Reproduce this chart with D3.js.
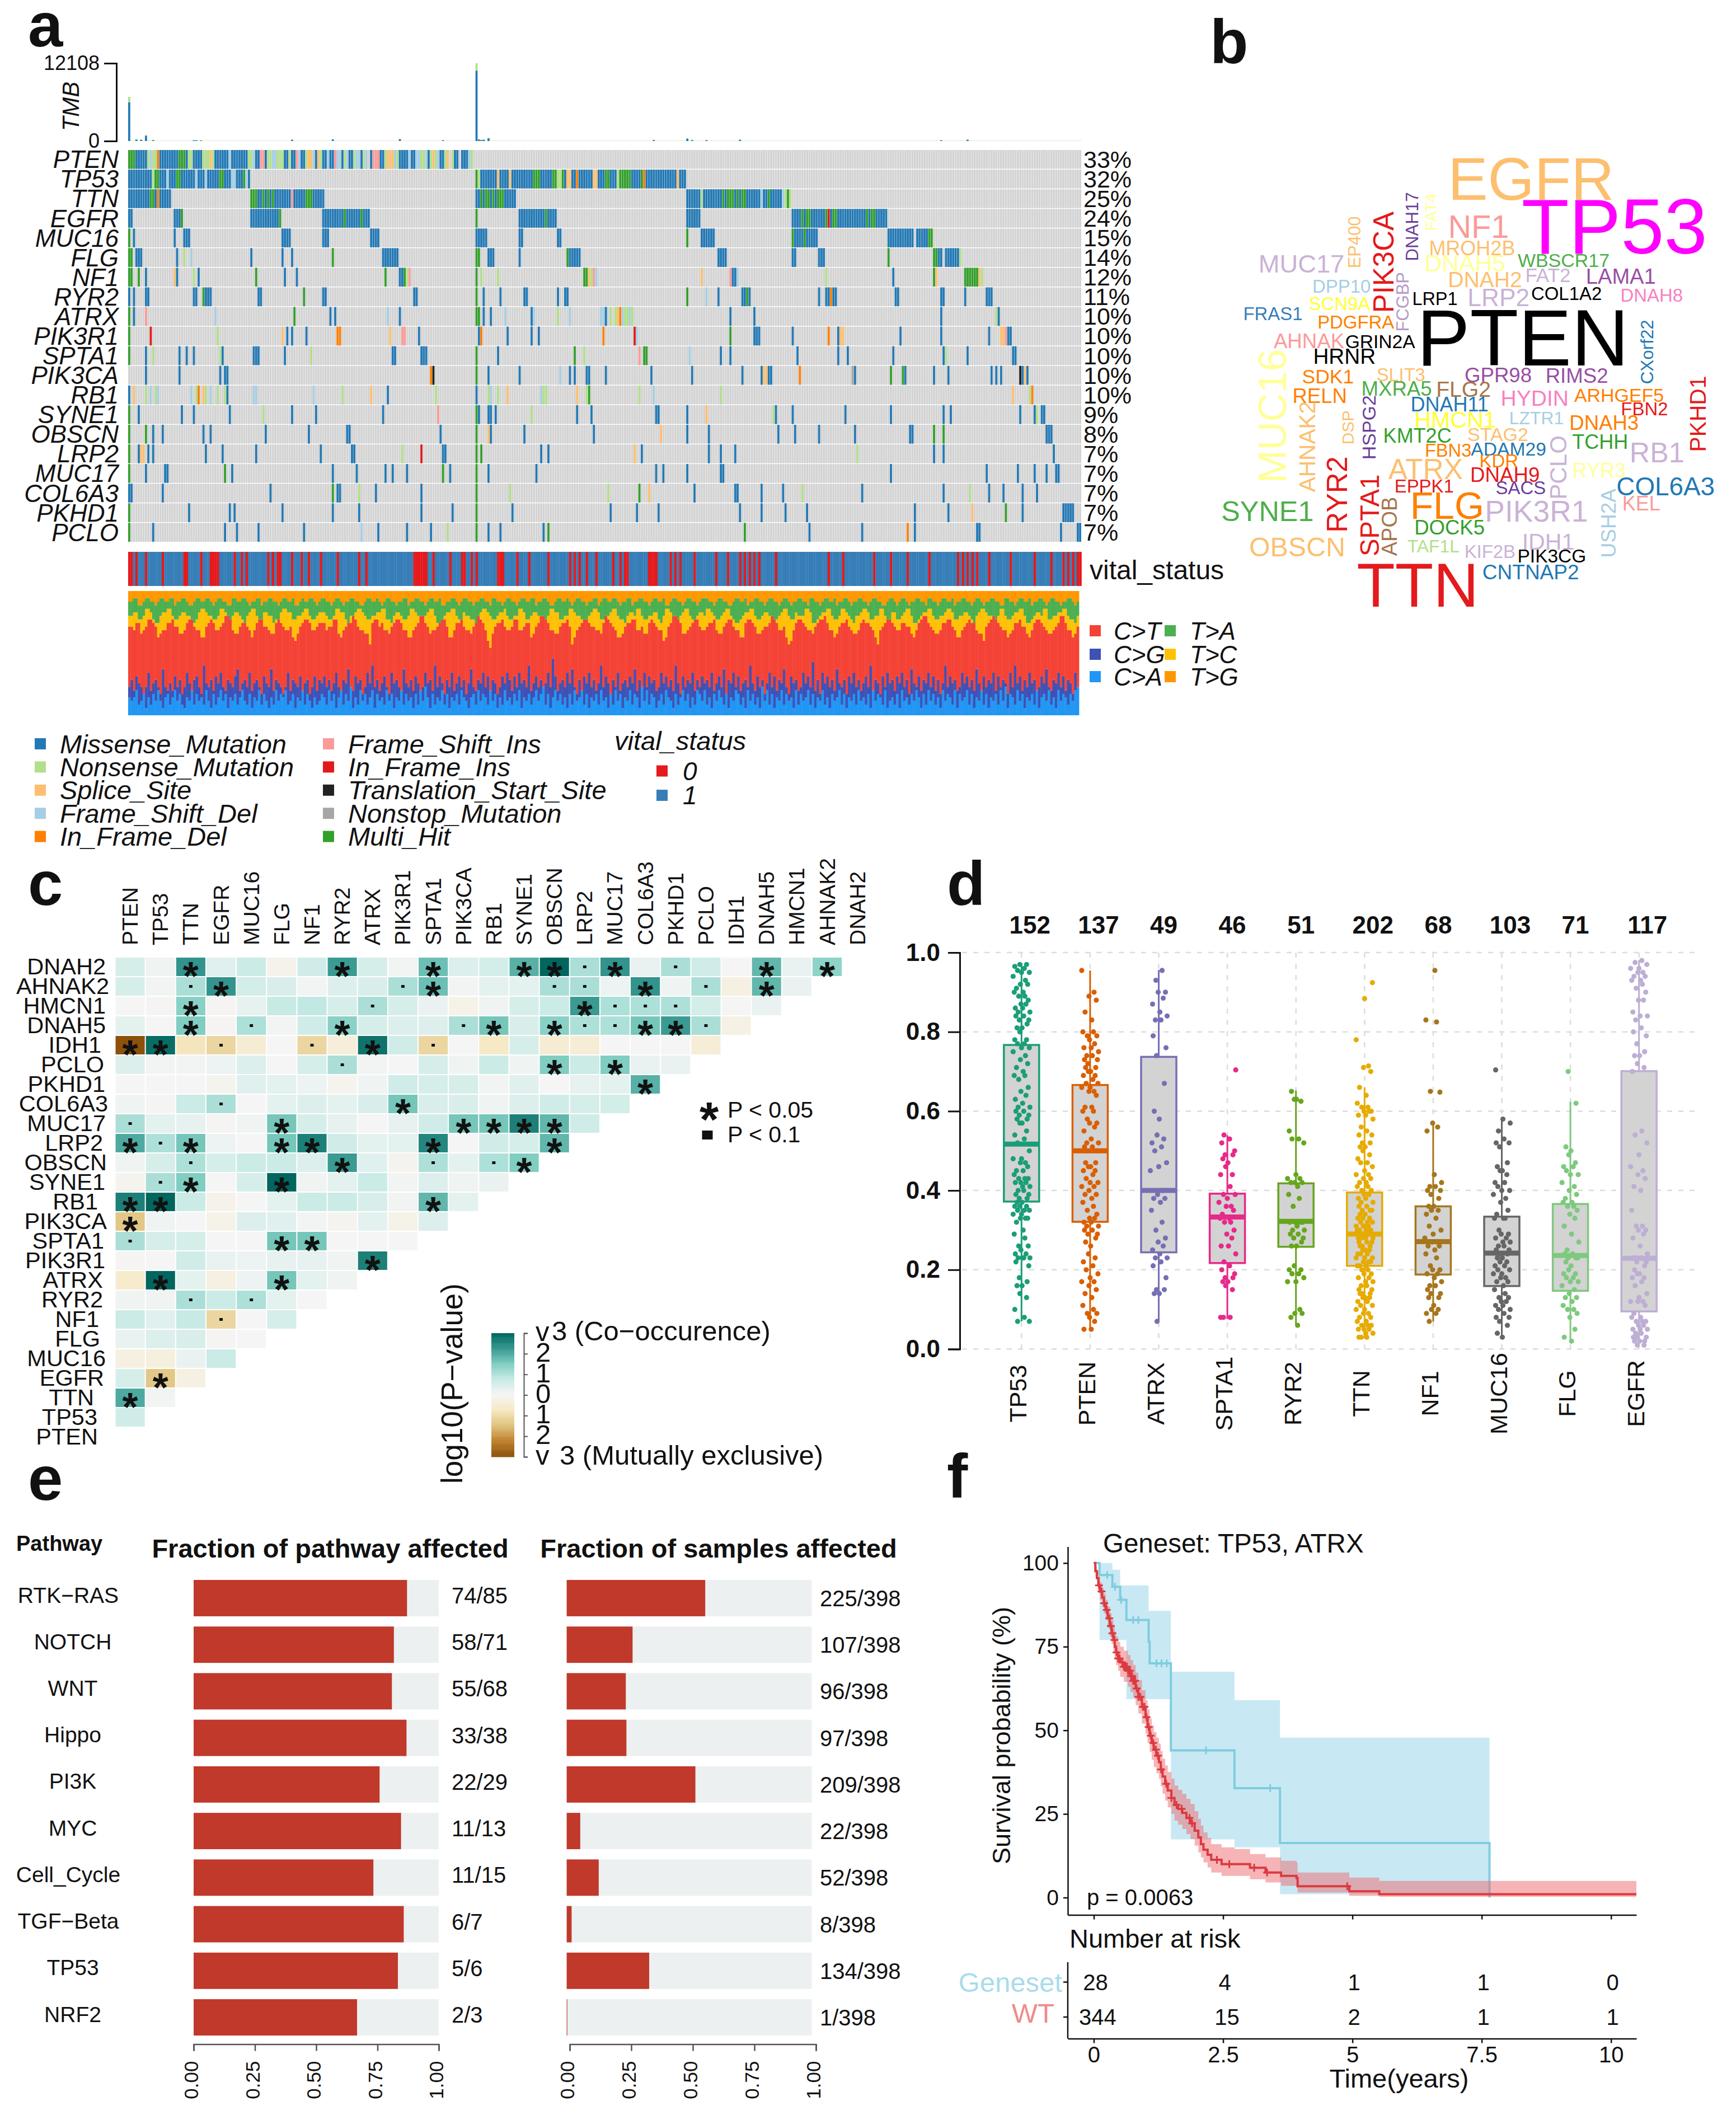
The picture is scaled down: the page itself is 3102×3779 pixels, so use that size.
<!DOCTYPE html>
<html>
<head>
<meta charset="utf-8">
<script src="https://cdn.jsdelivr.net/npm/d3@7"></script>
<style>
  body { margin: 0; background: #fff; }
  text { font-family: "Liberation Sans", Arial, sans-serif; fill: #111; }
</style>
</head>
<body>
<div id="chart"></div>
<script>
// ---------- panel a: oncoplot ----------
const sampleCount = 398;
const oncoGenes = ["PTEN","TP53","TTN","EGFR","MUC16","FLG","NF1","RYR2","ATRX","PIK3R1","SPTA1","PIK3CA","RB1","SYNE1","OBSCN","LRP2","MUC17","COL6A3","PKHD1","PCLO"];
const oncoPct = [33,32,25,24,15,14,12,11,10,10,10,10,10,9,8,7,7,7,7,7];
// start[:length][type], no type letter means missense
const oncoRows = [
  "0:3H 3:5 8N 9D 10:2N 12F 13:8 21:3H 24 25:2N 27:4 31:3N 34S 35N 36:6 42D 43:7 50:2N 52D 53:2 55:2I 57 58:2N 60:2D 62:3N 65:2 67N 68:2 70I 71D 72:2 74N 75:2S 77D 78 79S 80N 81:2 83D 84:2 86I 87:2D 89 90N 91D 92:2 94N 95:2D 97 98N 99D 101 102:3I 105:2 107N 108:3S 111D 112N 113:4 117D 118:2 120:2D 122:2N 124D 125 126N 127S 128N 129D 130:2 132N 133S 135N 136:2 139:3 142D 143N",
  "0:10 10N 11:2H 13:3 16D 17:3 20:2H 22:4 26:2 28D 29:3 32D 33:5 38:2H 40:3 43:2D 45:3 48H 49D 50 145H 146N 147:2 149:5 154S 155:4 159S 160:3 163:6 169:3H 172:5 177:2H 179:2N 181H 182 183:2S 185:2 187F 188:6 194:2S 196:3 199:2H 201:3 204N 205:2H 207:3H 210 211:3 214H 215F 216:6 222:7 229S 230:3",
  "0:9 9:2H 11 12F 13:5 51:3H 54:2 56H 57 58H 59 60H 61 62:6 68I 69:5 74:3H 77:5 145:2 147H 148 149:2H 151 152H 153 154:2H 156H 157:5 233:6 239N 240 241:7 248H 249 250H 251:2H 253 254H 255 256:2H 258 259:5 264D 265:2 267H 268:2 270:3 273D 274N 275H 276N",
  "0:2 19:3 22H 51:12 63H 81:9 90H 91:6 97H 98:3 145H 163:11 174H 175:4 233:6 277:4 281H 282 283:2H 285:2 287:4 291H 292R 293 294:2H 296:2 298:10 308H 309 310:2H 312:5",
  "0H 2 19 23:3 64:4 81:3 101:4 145:5 163:2 179:2 233H 239:6 277H 278:3 281 282H 283:5 317:11 329:5 334:2H",
  "0:2H 3:3 20 23N 26D 51 64 68 85H 106:7 145:2H 150:3 163 183H 184:4 188 246:4 277:2 288:3 317H 336:2H 338:2 341:6 347N",
  "0:2H 4H 7 19S 20 27N 29 53H 65 70 107H 113:2 115H 116N 117I 145H 147N 154N 190:2H 192S 193N 194I 195D 239S 251I 252:2 254D 291N 319 336H 337S 349:6H 355S 356N",
  "0 2 7:2 27:2 31H 32:3 54:2 73H 81:2 119:2 145H 148 155 165:2 179 182:2 233H 241D 246 256:2 258H 259 288 291:2 293F 294:2 320:2 339:2 349 358:3",
  "0H 2 7I 36D 69H 84 86 108D 113 145:2H 148 151 157D 168 169D 179N 184D 197:3D 199 201N 203N 204S 205F 206D 207:3N 209D 210N 251 261 339 362N 363",
  "0H 9R 37N 64S 66 68 74 87:2F 109S 114:2I 121 146 147F 158 168 171 198F 211R 212D 251H 261:3 277 292F 296 297:2S 322 339 359 364:2S 366I 367:2",
  "0H 7 10N 21 24 27 38N 39 52:2 54 65 76N 110:2 122:3 145H 154 186H 190N 213I 215:2H 234D 247 251 279 296 300 319 340 341N 350 369:2",
  "7 21 38 40:2 126F 127T 145H 150 163 180D 184 186 191:2 199 218 235 256 264 265:2S 267 268 280F 302O 303 318H 323H 324 336 342 360 362 364 372T 373 374S 375",
  "0 2S 7N 9D 11N 12D 26D 28N 29F 31S 32N 34D 37N 40N 41 52:2D 77D 89N 101S 108 128N 145 150N 151D 154N 158S 172D 173N 174N 187S 191N 192H 213N 219D 247N 369S 376N 377F",
  "0H 4 22 27 42 56N 68 78 106 129I 145H 146 150:2 153 168N 187 193 220 221 233 241S 269N 270 277 299 318 340 343 372 378 379N 381:2",
  "0H 7H 10 14 31 34 57 75 91:2 130 145H 150S 151 165 194 222S 233 242 271 278 288 303 326:2 336H 340H 383 384 385",
  "0H 4 5:2S 8 10 32 39 53 80 93:2 114N 122R 131 132 145H 147H 172 175 211S 214 242 247 253 304N 336 340 386",
  "0H 7 15:2 40H 43 85 95 107 110 116 131H 134 145H 150 170 220 223 233 247 248 318 358 371 378 383 387:2",
  "0:2 14 59 85H 87:2 96N 103 122 145H 159N 200N 213H 217S 236 253:2 264 273 281N 306 340 351N 359 365 373 379",
  "0H 25 42 44 64 85 96 122 135 145H 160 201 212 221 255 264 274 283 328 342 352S 366H 373 390:2 392 393:2",
  "0H 10 40 45 54 73 97D 104 116 126 133N 145H 150 155 173 175H 257H 284 306 325F 328 354:2 389 396 397"
];
const mutNames = ["Missense_Mutation","Nonsense_Mutation","Splice_Site","Frame_Shift_Del","In_Frame_Del","Frame_Shift_Ins","In_Frame_Ins","Translation_Start_Site","Nonstop_Mutation","Multi_Hit"];
const mutCodes = ["M","N","S","D","F","I","R","T","O","H"];
const mutColors = ["#2379b5","#b2df8a","#fdbf6f","#a6cee3","#ff7f00","#fb9a99","#e31a1c","#222222","#a6a6a6","#33a02c"];

const tmbPeakSample = [0,3,5,7,10,27,28,30,68,85,113,131,145,146,147,148,150,219,233,235,241,255,339,350];
const tmbPeakMissense = [6015,220,180,800,140,120,110,90,200,240,280,120,10944,230,150,200,420,160,360,150,140,200,120,200];
const tmbPeakTotal = [6870,300,250,970,200,150,150,120,250,300,350,150,12108,300,200,250,500,200,450,200,180,250,150,250];
const tmbFloor = 110;

const vitalDeadFree = [0,1,3,7,14,23,24,30,34,35,36,37,44,47,49,58,60,62,63,68,72,75,80,87,96,99,119,120,121,122,123,124,127,134,139,140,143,145,154,155,156,162,167,175,184,186,188,191,195,202,205,207,208,217,218,219,220,226,228,230,236,245,250,255,257,259,261,263,270,292,298,311,318,325,334,346,348,350,352,354,359,368,378,385,390,392,394,396,397];

// cumulative tops per sample, base 36 digits over 35
const spectrumCA = "5457346253647425635746325473645374263574625463574362547364253746573462547364253"
  + "4653746257364825374635726453746254736452637485263547362546375425637465374625374"
  + "5364725463574683625746352637457362546374526374625473652847365246375426357462537"
  + "6473526475362547635274635284736254736452736457362547352645736254637453627465372"
  + "4536274536475263746352746537264573625473625463748265374625463725647352746536478";
const spectrumCG = "8a7b9868c79a86d8797b8a68c97ab86e98a7b9c87a98bd79a8c79a86b98d7a9868c7a98b79a68b7a"
  + "9b8a79c86a9d87b9a68c9e8a79b86c9a87d98a7b968c9a7e8b96a8c79b8a69d87a9c8b7a968b9ca"
  + "7b8c9a8e79b8a69c8gb79a8c9d86a7b9c8a79e8b96a8c79a8b9d7a6c8b9a78c9b8a7e96b8a9c7a8"
  + "b9a8c79b8d6a9c8b79a8e97b8a69c8b7a9d86b9a78c9b8f7a6c9b8a7d98a6b9c8a79b8e7a96b8c9"
  + "a7b9c8a6d98b7a9c8b7a69e8b9a78c9b8a7d96b8a9c7b8a96c8e9b7a8c9a68b9d87a9c8b7a96c8b";
const spectrumCT = "ppoqqnoprrqpmnooqqrppnnoqrrpoommpqrqoopqssronnpqqpomoqrrpponnqrqpoopmlnpqrrqoopq"
  + "qqopprrnmopqqsrpoonnkqrrpqoonpqrrqoommopqssqpnoopqrrpmmoqqrpoonpqsrqoljnpqqrpoop"
  + "rroopqqmnpqssrqoonnpqqrpkmopqrrqppoonqsrqpommnpqqrroopnnqrqpoolmpqssrqnnopqrrpoo"
  + "pqqronnpqrrpoommqrrqpnnoppqsrqoopmkloqrrqpoonpqrrsqoomnpqqrponnoqrqqpomkopqrrqpo"
  + "oqqppnmoqrssqponnoqqrrpommopqrqqonnlpqrsrqpoomnoqqrppnmoqrrqponnopqssqoomnpqrqpo";
const spectrumTC = "ssttrrsuutrqqsttuusrrsttssrqrtuutssrrsuutrrsttsrqstuusrrttssqrrtuuttrrsstuusrrst"
  + "ttsrrsuuttrqsstuutsrrssttuurrqsttsrrsuutsrrstuusqqrsttuusrrtssrrqstuutsrrsttusrr"
  + "ssuutrrsttsqqrsuuttrrssuutssrqqstuutrrsstuusrrqsttsuusrrssttrqsuutsrrstuusrrstts"
  + "uutsrrstuusrqqrsttuusrrsttssqrstuusrrtsssuutqqrsttuusrrsuutsrqsstuutrrssuusrrttr"
  + "rstuusqqrsttuusrrsstuutrrssttsrqstuutssrrsuusrrsttuusqqrsttsuurrssttuusrrqsttuus";
const spectrumTA = "wwxxvvwxxwwvwxxwwxxvwwxxwvvwxxwwxxwvwxxwwvvxxwwxxwvwwxxvwwxxwwvwxxwwxvvwxwwxxwvw"
  + "xxwwvwxxwvwwxxwwvvwxxwwxwvwxxwwvwwxxvwwxxwwvwxxwwxvvwwxxwvwxxwwvwwxxwwvxxwwvwxxw"
  + "wvwxxwwxxvwwxxwvvwxxwwxwvwxxwwvwwxxvwxxwwxxwvwwxxvwwxxwwvwxxwwxvvwxxwwvwxxwwvwxx"
  + "xwwvwxxwwvvwxxwwxvwwxxwwvwxxwwvwxxwvwwxxwwvxxwwvwxxwwxvwwxxwvwwxxwwvwxxwwvvwxxwv"
  + "wxxwvwwxxwwvxxwwvwxxwwxvwwxxwwvwxxwvwwxxwwvvxxwwvwxxwwxvwwxxwvwxxwwvwwxxwvwxxwwv";
const spectrumNames = ["C>A","C>G","C>T","T>C","T>A","T>G"];
const spectrumColors = ["#2196f3","#3f51b5","#f44336","#ffc107","#4caf50","#ff9800"];
const spectrumLegend = ["C>T","C>G","C>A","T>A","T>C","T>G"];

// ---------- panel b: word cloud ----------
const wordNames = ["EGFR","TP53","NF1","MROH2B","WBSCR17","MUC17","DNAH5","FAT2","LAMA1","DNAH2","DPP10","LRP2","COL1A2","DNAH8","LRP1","SCN9A","FRAS1","PDGFRA","PTEN","AHNAK","GRIN2A","HRNR","SDK1","SLIT3","GPR98","RIMS2","RELN","MXRA5","FLG2","HYDIN","ARHGEF5","DNAH11","FBN2","HMCN1","LZTR1","DNAH3","KMT2C","STAG2","TCHH","FBN3","ADAM29","RB1","ATRX","KDR","RYR3","DNAH9","EPPK1","COL6A3","SACS","FLG","PIK3R1","KEL","SYNE1","DOCK5","OBSCN","TAF1L","KIF2B","IDH1","PIK3CG","CNTNAP2","TTN","EP400","PIK3CA","DNAH17","FAT4","FCGBP","MUC16","AHNAK2","DSP","HSPG2","RYR2","SPTA1","APOB","PCLO","USH2A","CXorf22","PKHD1"];
const wordFreq = [104,135,56,35,33,44,41.5,34,37,38,32,43,32,32,31.5,32,32,32,138,35.6,32.6,37.6,34.5,31.6,35.6,35.6,35.5,35.6,38,38,33,35,32,40,31,35.5,35,33,35,31.7,32.7,49,50,32,35,35.6,32,44.5,32,66,52,35,49,35.5,47,31,32,40,32.5,36,109,30,49.6,30.4,28,30,68.6,39.5,29,33,50,46,37,41,36,30.5,39.6];
const wordX = [995,1228,848,830,1086,353,810,1042,1246,866,465,904,1094,1332,726,459,273,505,972,374,573,473,427,631,903,1123,404,619,806,1005,1241,767,1312,783,1010,1199,677,902,1188,763,932,1347,700,905,1185,922,696,1371,966,760,1010,1303,258,767,341,722,880,1043,1053,994,678,501,581,661,714,636,271,368,483,541,452,543,599,1070,1211,1319,1460];
const wordY = [207,355,356,423,462,471,470,507,511,521,542,577,565,570,581,596,627,653,700,713,715,759,823,817,818,821,883,860,862,891,882,909,923,957,952,966,1008,1004,1026,1053,1048,1059,1110,1085,1115,1129,1165,1165,1170,1225,1242,1218,1242,1293,1354,1351,1368,1336,1382,1432,1470,406,468,357,312,591,947,1042,982,982,1191,1256,1290,1107,1280,747,940];
const wordRotated = [0,0,0,0,0,0,0,0,0,0,0,0,0,0,0,0,0,0,0,0,0,0,0,0,0,0,0,0,0,0,0,0,0,0,0,0,0,0,0,0,0,0,0,0,0,0,0,0,0,0,0,0,0,0,0,0,0,0,0,0,0,1,1,1,1,1,1,1,1,1,1,1,1,1,1,1,1];
const wordColors = ["#fdbf6f","#ff00ff","#fb9a99","#fdbf6f","#4daf4a","#cab2d6","#ffff99","#cab2d6","#984ea3","#fdbf6f","#a6cee3","#cab2d6","#000000","#f781bf","#000000","#ffff33","#377eb8","#ff7f00","#000000","#fb9a99","#000000","#000000","#ff7f00","#fdbf6f","#984ea3","#984ea3","#ff7f00","#4daf4a","#a6764d","#f781bf","#ff7f00","#1f78b4","#e41a1c","#ffff33","#a6cee3","#ff7f00","#33a02c","#fdbf6f","#33a02c","#ff7f00","#1f78b4","#cab2d6","#fdbf6f","#ff7f00","#ffff99","#e41a1c","#e41a1c","#1f78b4","#6a3d9a","#ff7f00","#cab2d6","#fb9a99","#4daf4a","#33a02c","#fdbf6f","#b2df8a","#cab2d6","#cab2d6","#000000","#1f78b4","#e41a1c","#fdbf6f","#e31a1c","#6a3d9a","#ffff99","#b39bc8","#ffff99","#fdbf6f","#fdbf6f","#6a3d9a","#e41a1c","#e41a1c","#a6764d","#cab2d6","#a6cee3","#1f78b4","#e41a1c"];

// ---------- panel c: somatic interactions ----------
const interColumns = ["PTEN","TP53","TTN","EGFR","MUC16","FLG","NF1","RYR2","ATRX","PIK3R1","SPTA1","PIK3CA","RB1","SYNE1","OBSCN","LRP2","MUC17","COL6A3","PKHD1","PCLO","IDH1","DNAH5","HMCN1","AHNAK2","DNAH2"];
const interRows = ["DNAH2","AHNAK2","HMCN1","DNAH5","IDH1","PCLO","PKHD1","COL6A3","MUC17","LRP2","OBSCN","SYNE1","RB1","PIK3CA","SPTA1","PIK3R1","ATRX","RYR2","NF1","FLG","MUC16","EGFR","TTN","TP53","PTEN"];
const interLabelEdge = [189,195,189,189,181,186,188,193,189,184,191,188,175,191,186,188,184,184,177,179,189,186,168,174,175];
// signed -log10(P), blue side co-occurence, brown side exclusive
const interValues = [
  [.5,.1,2.3,.35,.7,-.15,.6,2.2,.5,.05,1.7,.4,.55,1.9,3,1.05,2.3,.2,1.05,.6,0,1.8,.2,1.35],
  [.5,.05,1.05,2.3,.55,.45,.05,.4,.45,1.05,1.7,.05,.3,.3,1.05,1.05,.15,2.3,.1,1.05,-.3,1.8,.2],
  [0,-.05,1.4,-.05,.25,.75,.8,.5,1.05,.5,.2,-.2,.1,.5,.7,2.2,1.02,1.02,1.02,.55,0,.2],
  [.3,0,1.5,-.05,1.02,.05,.6,1.4,.5,.4,.4,1.05,1.6,.45,1.4,1.02,1.02,1.6,2.2,1.05,-.25],
  [-3,2.9,-.8,-1.1,-.5,0,-1.1,-.4,2.8,.6,-1.1,0,-.7,.5,-.5,-.45,0,0,0,-.45],
  [.4,.05,.05,.15,.4,0,.5,1.05,.05,0,.5,.1,.7,.1,1.5,.7,1.5,.2,.2],
  [0,0,0,-.1,.35,.3,.15,-.1,.1,.6,.5,.5,.05,.35,0,.25,.3,1.9],
  [.1,-.05,.7,1.05,0,.3,.4,.3,.45,1.6,.45,.45,.1,.4,.6,.5,.55],
  [1.05,.3,.25,-.05,.1,1.6,.5,.25,0,.25,.6,1.6,1.6,2.6,1.8,.6],
  [2,1.02,1.6,.15,0,1.6,2.6,.6,.3,.3,2.5,0,.6,.5,1.8],
  [.1,.5,1.02,.5,.7,.7,.4,2.2,.35,-.1,1.02,.3,1.02,1.5],
  [-.1,1.05,1.5,0,.5,3,.1,.3,.7,.05,.4,.1,.2],
  [2.6,3,.7,-.15,0,.3,.7,.7,.45,.05,1.8,.3],
  [-1.4,.1,0,-.2,.4,.35,.05,-.1,.3,-.2,.4],
  [1.05,.5,.5,0,0,1.6,1.6,0,0,0],
  [-.05,0,.6,.2,.15,.25,.25,.1,2.6],
  [-.6,3,.3,-.3,.15,1.6,.3,.1],
  [.1,.1,1.05,.7,1.02,.3,0],
  [.7,.35,.75,-1.1,0,.5],
  [.2,.4,.45,-.05,0],
  [-.3,-.35,.2,.7],
  [.5,-1.4,-.3],
  [2,.05],
  [.6],
  []
];
const brbgStops = ["#8c510a","#bf812d","#dfc27d","#f6e8c3","#f5f5f5","#c7eae5","#80cdc1","#35978f","#01665e"];
const brbgDomain = [-3,-2.25,-1.5,-.75,0,.75,1.5,2.25,3];
const colorbarLabels = ["v","2","1","0","1","2","v"];
const colorbarTicks = [3,2,1,0,-1,-2,-3];

// ---------- panel d: VAF boxes ----------
const vafGenes = ["TP53","PTEN","ATRX","SPTA1","RYR2","TTN","NF1","MUC16","FLG","EGFR"];
const vafCounts = [152,137,49,46,51,202,68,103,71,117];
const vafQ1 = [.372,.321,.244,.217,.258,.21,.188,.159,.147,.095];
const vafMedian = [.517,.5,.4,.333,.322,.29,.271,.242,.236,.229];
const vafQ3 = [.767,.666,.737,.392,.418,.395,.36,.334,.366,.701];
const vafLow = [.07,.05,.068,.076,.061,.026,.069,.026,.024,.014];
const vafHigh = [.973,.955,.956,.539,.652,.66,.572,.581,.624,.981];
const vafColors = ["#1b9e77","#d95f02","#7570b3","#e7298a","#66a61e","#e6ab02","#a6761d","#666666","#7fc97f","#beaed4"];
const vafPoints = [
  [.97,.97,.965,.96,.955,.95,.95,.94,.93,.92,.92,.91,.90,.90,.89,.89,.88,.87,.87,.86,.86,.85,.85,.84,.84,.83,.83,.82,.81,.81,.80,.78,.78,.77,.77,.76,.76,.75,.74,.73,.72,.71,.70,.69,.69,.68,.66,.65,.64,.63,.62,.61,.61,.60,.60,.59,.59,.58,.58,.57,.57,.55,.54,.53,.52,.50,.48,.48,.47,.47,.46,.45,.45,.44,.43,.43,.43,.42,.42,.42,.41,.41,.40,.40,.39,.39,.38,.38,.37,.37,.36,.36,.36,.35,.35,.35,.34,.34,.33,.33,.33,.32,.30,.29,.28,.26,.26,.25,.24,.24,.23,.23,.23,.23,.22,.21,.18,.17,.16,.16,.14,.13,.10,.08,.07,.07],
  [.955,.90,.89,.88,.85,.83,.80,.80,.79,.79,.78,.77,.76,.76,.75,.74,.74,.73,.73,.72,.71,.71,.70,.70,.69,.69,.68,.67,.67,.66,.66,.65,.65,.64,.61,.61,.60,.60,.58,.57,.57,.56,.55,.53,.52,.52,.51,.51,.50,.50,.47,.47,.46,.46,.45,.45,.44,.43,.42,.42,.41,.41,.40,.39,.39,.38,.37,.36,.35,.34,.33,.33,.32,.32,.31,.31,.30,.30,.29,.29,.28,.27,.26,.24,.23,.22,.21,.20,.19,.18,.17,.17,.16,.15,.14,.13,.11,.10,.09,.09,.08,.07,.05,.05],
  [.955,.93,.90,.90,.885,.87,.85,.84,.83,.83,.79,.76,.74,.67,.60,.58,.54,.53,.52,.51,.50,.47,.46,.45,.40,.39,.38,.38,.37,.35,.32,.30,.28,.27,.26,.25,.24,.23,.23,.22,.21,.18,.15,.15,.14,.14,.07],
  [.704,.54,.53,.52,.50,.49,.49,.48,.47,.46,.44,.44,.41,.39,.39,.38,.37,.36,.36,.35,.34,.33,.33,.32,.32,.30,.29,.28,.26,.26,.24,.22,.21,.20,.19,.18,.18,.17,.17,.16,.15,.08,.08,.08],
  [.65,.63,.63,.625,.55,.53,.53,.52,.44,.43,.43,.42,.42,.42,.41,.39,.38,.36,.32,.32,.32,.32,.31,.30,.30,.29,.29,.28,.28,.27,.26,.26,.21,.20,.20,.19,.19,.18,.17,.17,.10,.09,.09,.08,.06],
  [.924,.884,.78,.714,.71,.70,.66,.64,.62,.61,.61,.60,.60,.60,.59,.59,.58,.56,.55,.54,.54,.52,.52,.51,.51,.50,.49,.48,.47,.47,.46,.45,.44,.44,.43,.43,.42,.42,.41,.41,.40,.40,.39,.39,.38,.38,.37,.37,.36,.36,.35,.35,.35,.34,.34,.33,.33,.33,.32,.32,.32,.31,.31,.31,.31,.30,.30,.30,.30,.29,.29,.29,.29,.29,.28,.28,.28,.28,.27,.27,.27,.26,.26,.26,.25,.25,.25,.24,.24,.24,.23,.23,.23,.22,.22,.22,.21,.21,.21,.20,.20,.19,.19,.18,.18,.17,.17,.16,.16,.15,.15,.14,.14,.14,.13,.13,.13,.12,.12,.11,.11,.10,.10,.09,.09,.08,.08,.07,.07,.06,.06,.06,.05,.05,.05,.04,.04,.03,.03,.03],
  [.955,.83,.825,.65,.648,.57,.56,.55,.44,.42,.41,.41,.40,.40,.39,.38,.36,.36,.35,.35,.34,.33,.31,.30,.29,.28,.27,.27,.26,.26,.25,.24,.23,.21,.20,.20,.19,.19,.18,.17,.16,.16,.15,.14,.14,.13,.13,.11,.10,.10,.09,.09,.07],
  [.704,.58,.57,.55,.53,.52,.52,.51,.47,.46,.45,.45,.44,.42,.42,.41,.40,.40,.39,.38,.37,.35,.34,.33,.33,.33,.30,.29,.29,.28,.28,.27,.27,.26,.26,.25,.25,.24,.24,.23,.23,.22,.22,.21,.21,.20,.20,.19,.19,.18,.18,.17,.17,.16,.15,.14,.13,.13,.12,.12,.11,.11,.10,.10,.09,.08,.08,.07,.06,.04,.03],
  [.70,.62,.51,.50,.49,.47,.46,.46,.45,.44,.44,.42,.41,.40,.39,.38,.37,.37,.36,.36,.35,.34,.33,.31,.29,.27,.25,.24,.24,.23,.23,.23,.22,.21,.20,.19,.19,.18,.18,.17,.17,.16,.15,.14,.13,.13,.12,.11,.10,.10,.09,.08,.05,.03,.02],
  [.98,.975,.97,.96,.96,.95,.95,.94,.94,.93,.93,.92,.91,.90,.88,.88,.85,.84,.84,.83,.81,.80,.79,.77,.75,.74,.74,.72,.71,.70,.55,.54,.52,.49,.46,.45,.44,.43,.41,.40,.35,.31,.31,.30,.30,.29,.28,.26,.24,.23,.23,.23,.22,.22,.21,.20,.19,.19,.18,.18,.17,.16,.14,.13,.12,.12,.12,.11,.09,.08,.08,.07,.07,.07,.06,.06,.05,.05,.05,.04,.04,.03,.03,.03,.02,.02,.02,.01,.01]
];
const jitterOffsets = [-3,9,-12,5,-7,14,0,-15,7,-2,11,-9,3,-13,6,-5,12,-1,8,-11,2,15,-6,4,-10,13,-4,10,-8,1];

// ---------- panel e: pathways ----------
const pathways = ["RTK\u2212RAS","NOTCH","WNT","Hippo","PI3K","MYC","Cell_Cycle","TGF\u2212Beta","TP53","NRF2"];
const pathwayHit = [74,58,55,33,22,11,11,6,5,2];
const pathwaySize = [85,71,68,38,29,13,15,7,6,3];
const samplesHit = [225,107,96,97,209,22,52,8,134,1];
const samplesTotal = 398;
const fractionTicks = [0,.25,.5,.75,1];

// ---------- panel f: survival ----------
const genesetTime = [0,.11,.36,.51,.63,1.06,1.08,1.49,2.72,3.6,7.65];
const genesetSurv = [100,96.4,92.9,89,83,76.5,70,44,32.7,16.3,0];
const genesetUpper = [100,100,98,93.3,93.3,85.7,85.7,67.5,59,47.8,47.8];
const genesetLower = [100,77,77,77,59.3,59.3,59.3,17.4,15,1,1];
const genesetCensor = [.26,.41,.53,.76,.86,1.21,1.31,1.41,2.17,3.41];
const wtTime = [0,.03,.06,.09,.12,.16,.195,.23,.27,.31,.345,.38,.405,.43,.47,.51,.58,.66,.71,.76,.81,.86,.93,1,1.04,1.08,1.12,1.16,1.21,1.26,1.295,1.33,1.38,1.43,1.5,1.56,1.63,1.71,1.79,1.87,1.95,2.02,2.07,2.12,2.2,2.27,2.47,2.72,3.02,3.32,3.62,3.92,3.94,4.92,4.94,5.5,5.52,10.49];
const wtSurv = [100,97.6,95.5,93.3,91.5,89.7,88,86,83.5,81.2,79,77,75,73.3,71.5,70.3,69,67.8,66.2,64.8,62.5,60,57,53.9,51,48.4,46.2,44.2,42.4,40.5,38.3,36.2,34,32,29.8,27.7,26.5,25.3,23.8,22.2,20,18,16,14.3,12.8,11.3,10,10,8.9,7.5,6.5,5.8,3.4,3.4,1.9,1.9,1,1];
const wtUpper = [100,99,97.5,96,94.2,92.5,90.8,89,87,85,83,81,79.5,78,76.5,75,73.8,72.5,71,69.5,67.2,65,62,59,56.2,53.5,51.5,49.5,47.8,46,43.8,41.5,39.5,37.5,35.5,33.5,32.2,31,29.5,28,25.8,23.5,21.5,19.5,17.8,16,15,14.5,13,12,11,10.5,7.5,7.5,6,6,5,5];
const wtLower = [100,96,93.5,91,89,87,85,83,80.5,78,75.8,73.5,71.5,69.5,67.8,66,64.5,63,61.5,60,57.5,55,52,49,46.2,43.5,41.2,39,37.2,35.5,33.2,31,29,27,25,23,21.8,20.5,19,17.5,15.5,13.5,12,10.5,9,7.5,6.5,6.5,5.5,4.5,3.5,3,1.5,1.5,.5,.5,.2,.2];
const wtCensor = [.1,.15,.2,.25,.3,.33,.36,.4,.44,.47,.5,.55,.58,.6,.62,.64,.66,.68,.7,.72,.74,.76,.78,.8,.83,.86,.9,.95,.98,1.02,1.06,1.1,1.15,1.2,1.24,1.3,1.4,1.5,1.6,1.7,1.85,1.9,2.38,2.62,3.1,3.35,4.9];
const riskTimes = [0,2.5,5,7.5,10];
const riskGeneset = [28,4,1,1,0];
const riskWT = [344,15,2,1,1];
const survTicks = [0,25,50,75,100];

// ---------- drawing ----------
const svg = d3.select("#chart").append("svg")
  .attr("width", 3102)
  .attr("height", 3779)
  .style("display", "block");
svg.append("rect").attr("width", 3102).attr("height", 3779).attr("fill", "#fff");

// small text helper so the label code below stays readable
function label(parent, str, x, y, size, opts = {}) {
  const t = parent.append("text")
    .text(str)
    .attr("x", x)
    .attr("y", y)
    .attr("font-size", size)
    .attr("text-anchor", opts.anchor || "start")
    .attr("dominant-baseline", "central");
  if (opts.bold) t.attr("font-weight", "bold");
  if (opts.italic) t.attr("font-style", "italic");
  if (opts.fill) t.style("fill", opts.fill);
  if (opts.rotate) t.attr("transform", `rotate(${opts.rotate},${x},${y})`);
  return t;
}

[["a",50,83],["b",2162,113],["c",50,1617],["d",1692,1617],["e",50,2680],["f",1692,2676]].forEach(d => {
  svg.append("text").text(d[0])
    .attr("x", d[1]).attr("y", d[2])
    .attr("font-size", 112).attr("font-weight", "bold");
});

// --- a ---
const a = svg.append("g");
const sampleX = d3.scaleBand().domain(d3.range(sampleCount)).range([229, 1932]).paddingInner(0.12);
const sampleStep = sampleX.step();
const geneY = d3.scaleBand().domain(oncoGenes).range([268, 968]).paddingInner(0.04);
const mutColor = d3.scaleOrdinal().domain(mutCodes).range(mutColors);

const tmbY = d3.scaleLinear().domain([0, 12108]).range([252, 113]);
a.append("g").attr("transform", "translate(208,0)")
  .call(d3.axisLeft(tmbY).tickValues([0, 12108]).tickSize(22).tickPadding(8).tickFormat(d3.format("d")))
  .call(g => g.selectAll("path,line").attr("stroke", "#111").attr("stroke-width", 3))
  .call(g => g.selectAll("text").attr("font-size", 36).style("font-family", "Liberation Sans"));
label(a, "TMB", 126, 190, 42, { anchor: "middle", italic: true, rotate: -90 });

const tmbG = a.append("g");
d3.range(sampleCount).forEach(i => {
  const k = tmbPeakSample.indexOf(i);
  if (k < 0) {
    tmbG.append("rect").attr("x", sampleX(i)).attr("width", sampleX.bandwidth())
      .attr("y", tmbY(tmbFloor)).attr("height", tmbY(0) - tmbY(tmbFloor)).attr("fill", "#e6e8d6");
  } else {
    tmbG.append("rect").attr("x", sampleX(i)).attr("width", sampleX.bandwidth())
      .attr("y", tmbY(tmbPeakTotal[k])).attr("height", tmbY(tmbPeakMissense[k]) - tmbY(tmbPeakTotal[k])).attr("fill", "#b2df8a");
    tmbG.append("rect").attr("x", sampleX(i)).attr("width", sampleX.bandwidth())
      .attr("y", tmbY(tmbPeakMissense[k])).attr("height", tmbY(0) - tmbY(tmbPeakMissense[k])).attr("fill", "#2379b5");
  }
});

oncoGenes.forEach((gene, r) => {
  const row = a.append("g");
  row.selectAll("rect.bg")
    .data(d3.range(sampleCount))
    .enter().append("rect")
    .attr("x", d => sampleX(d))
    .attr("y", geneY(gene))
    .attr("width", sampleX.bandwidth())
    .attr("height", geneY.bandwidth())
    .attr("fill", "#d3d3d3");
  // one rect per mutated sample, the gaps keep the striped look of the original
  const tokens = [];
  oncoRows[r].split(" ").forEach(tok => {
    const m = tok.match(/^(\d+)(?::(\d+))?([A-Z])?$/);
    const len = m[2] ? +m[2] : 1;
    d3.range(len).forEach(o => tokens.push({ sample: +m[1] + o, code: m[3] || "M" }));
  });
  row.selectAll("rect.mut")
    .data(tokens)
    .enter().append("rect")
    .attr("x", d => sampleX(d.sample))
    .attr("y", geneY(gene))
    .attr("width", sampleX.bandwidth())
    .attr("height", geneY.bandwidth())
    .attr("fill", d => mutColor(d.code));
  const cy = geneY(gene) + geneY.bandwidth() / 2;
  label(a, gene, 212, cy, 44, { anchor: "end", italic: true });
  label(a, oncoPct[r] + "%", 1936, cy, 43);
});

const vitalY = d3.scaleBand().domain(["vital_status"]).range([986, 1047]);
a.selectAll("rect.vital")
  .data(d3.range(sampleCount))
  .enter().append("rect")
  .attr("x", d => sampleX(d))
  .attr("y", vitalY("vital_status"))
  .attr("width", sampleStep + 0.3)
  .attr("height", vitalY.bandwidth())
  .attr("fill", d => vitalDeadFree.includes(d) ? "#e41a1c" : "#377eb8");
label(a, "vital_status", 1947, 1018, 48);

// spectrum stacks
const specTops = [spectrumCA, spectrumCG, spectrumCT, spectrumTC, spectrumTA].map(s => Array.from(s, c => parseInt(c, 36) / 35));
const specLen = d3.min(specTops, s => s.length);
const specX = d3.scaleBand().domain(d3.range(specLen)).range([229, 1928]);
const specY = d3.scaleLinear().domain([0, 1]).range([1278, 1056]);
const specG = a.append("g");
d3.range(specLen).forEach(i => {
  let below = 0;
  spectrumNames.forEach((name, k) => {
    const top = k < 5 ? Math.max(specTops[k][i], below) : 1;
    specG.append("rect")
      .attr("x", specX(i))
      .attr("y", specY(top))
      .attr("width", specX.bandwidth() + 0.4)
      .attr("height", specY(below) - specY(top))
      .attr("fill", spectrumColors[k]);
    below = top;
  });
});
const specColor = d3.scaleOrdinal().domain(spectrumNames).range(spectrumColors);
spectrumLegend.forEach((name, i) => {
  const col = i < 3 ? 0 : 1, rowY = [1127, 1169, 1209][i % 3];
  a.append("rect").attr("x", col ? 2081 : 1947).attr("y", rowY - 10).attr("width", 20).attr("height", 20).attr("fill", specColor(name));
  label(a, name, col ? 2126 : 1990, rowY, 44, { italic: true });
});

// mutation legend
const legendRowY = d3.scalePoint().domain(d3.range(5)).range([1329, 1494.6]);
mutNames.forEach((name, i) => {
  const col = i < 5 ? 0 : 1, y = legendRowY(i % 5);
  a.append("rect").attr("x", col ? 577 : 62).attr("y", y - 10).attr("width", 20).attr("height", 20).attr("fill", mutColors[i]);
  label(a, name, col ? 622 : 107, y, 47, { italic: true });
});
label(a, "vital_status", 1098, 1323, 47, { italic: true });
["0","1"].forEach((v, i) => {
  const y = [1377.5, 1421][i];
  a.append("rect").attr("x", 1173).attr("y", y - 10).attr("width", 20).attr("height", 20).attr("fill", i ? "#377eb8" : "#e41a1c");
  label(a, v, 1220, y, 46, { italic: true });
});

// --- b ---
const cloudX = d3.scaleLinear().domain([0, 1568]).range([2100, 3102]);
const cloudY = d3.scaleLinear().domain([0, 1568]).range([200, 1100]);
const cloudSize = d3.scaleLinear().domain([0, 138]).range([0, 142]);
svg.append("g").selectAll("text")
  .data(wordNames)
  .enter().append("text")
  .text(d => d)
  .attr("font-size", (d, i) => cloudSize(wordFreq[i]))
  .attr("text-anchor", "middle")
  .style("fill", (d, i) => wordColors[i])
  .attr("transform", (d, i) => {
    const dy = 0.358 * cloudSize(wordFreq[i]);
    return wordRotated[i]
      ? `translate(${cloudX(wordX[i]) + dy},${cloudY(wordY[i])}) rotate(-90)`
      : `translate(${cloudX(wordX[i])},${cloudY(wordY[i]) + dy})`;
  });

// --- c ---
const c = svg.append("g");
const colX = d3.scaleBand().domain(interColumns).range([205.5, 205.5 + 54.15 * 25]);
const rowY = d3.scaleBand().domain(interRows).range([1710, 1710 + 35 * 25]);
const brbg = d3.scaleLinear().domain(brbgDomain).range(brbgStops);

interRows.forEach((gene, r) => {
  label(c, gene, interLabelEdge[r], rowY(gene) + 16, 41.5, { anchor: "end" });
  interValues[r].forEach((v, k) => {
    const col = interColumns[k];
    c.append("rect")
      .attr("x", colX(col) + 1)
      .attr("y", rowY(gene) + 1)
      .attr("width", colX.bandwidth() - 2)
      .attr("height", rowY.bandwidth() - 2)
      .attr("fill", brbg(v));
    const cx = colX(col) + colX.bandwidth() / 2, cy = rowY(gene) + rowY.bandwidth() / 2;
    if (Math.abs(v) >= 1.3) {
      c.append("text").text("*")
        .attr("x", cx).attr("y", cy + 41)
        .attr("text-anchor", "middle")
        .attr("font-size", 72)
        .attr("font-weight", "bold");
    } else if (Math.abs(v) >= 1) {
      c.append("rect").attr("x", cx - 3).attr("y", cy - 2.5).attr("width", 6).attr("height", 5).attr("fill", "#111");
    }
  });
});
interColumns.forEach(gene => {
  const x = colX(gene) + colX.bandwidth() / 2;
  label(c, gene, x, 1689, 39, { rotate: -90 });
});

c.append("text").text("*").attr("x", 1267).attr("y", 2030).attr("text-anchor", "middle").attr("font-size", 88).attr("font-weight", "bold");
label(c, "P < 0.05", 1300, 1983, 41);
c.append("rect").attr("x", 1254.5).attr("y", 2020).attr("width", 19).attr("height", 16).attr("fill", "#111");
label(c, "P < 0.1", 1300, 2027, 41);

const barY = d3.scaleLinear().domain([-3, 3]).range([2603, 2382]);
c.selectAll("rect.cbar")
  .data(d3.range(-3, 3, 0.05))
  .enter().append("rect")
  .attr("x", 878)
  .attr("y", d => barY(d + 0.05))
  .attr("width", 41)
  .attr("height", d => barY(d) - barY(d + 0.05) + 0.5)
  .attr("fill", d => brbg(d));
c.append("g").attr("transform", "translate(936,0)")
  .call(d3.axisRight(barY).tickValues(colorbarTicks).tickSize(7).tickFormat(""))
  .call(g => g.selectAll("path,line").attr("stroke", "#555").attr("stroke-width", 2));
colorbarLabels.forEach((s, i) => {
  label(c, s, 957, barY(colorbarTicks[i]) - 3, 49);
});
label(c, "3 (Co\u2212occurence)", 986, 2378, 49);
label(c, "3 (Mutually exclusive)", 1000, 2600, 49);
label(c, "log10(P\u2212value)", 807, 2472, 53, { anchor: "middle", rotate: -90 });

// --- d ---
const d_ = svg.append("g");
const vafX = d3.scaleBand().domain(vafGenes).range([1764, 2990]);
const vafY = d3.scaleLinear().domain([0, 1]).range([2410.5, 1702]);
const boxW = 63;

vafY.ticks(5).forEach(t => {
  d_.append("line").attr("x1", 1719).attr("x2", 3039).attr("y1", vafY(t)).attr("y2", vafY(t))
    .attr("stroke", "#dcdcdc").attr("stroke-width", 2.5).attr("stroke-dasharray", "9 11");
});
d_.append("g").attr("transform", "translate(1715,0)")
  .call(d3.axisLeft(vafY).ticks(5).tickSize(21).tickPadding(14).tickFormat(d3.format(".1f")))
  .call(g => g.selectAll("path,line").attr("stroke", "#111").attr("stroke-width", 3))
  .call(g => g.selectAll("text").attr("font-size", 44).attr("font-weight", "bold").style("font-family", "Liberation Sans"));

vafGenes.forEach((gene, i) => {
  const cx = vafX(gene) + vafX.bandwidth() / 2, col = vafColors[i];
  d_.append("line").attr("x1", cx).attr("x2", cx).attr("y1", 1702).attr("y2", 2410.5)
    .attr("stroke", "#dcdcdc").attr("stroke-width", 2.5).attr("stroke-dasharray", "9 11");
  d_.append("line").attr("x1", cx).attr("x2", cx).attr("y1", vafY(vafHigh[i])).attr("y2", vafY(vafLow[i]))
    .attr("stroke", col).attr("stroke-width", 3);
  d_.append("rect")
    .attr("x", cx - boxW / 2).attr("width", boxW)
    .attr("y", vafY(vafQ3[i])).attr("height", vafY(vafQ1[i]) - vafY(vafQ3[i]))
    .attr("fill", "#d3d3d3").attr("stroke", col).attr("stroke-width", 3.5);
  // jitter comes from a fixed offset list, so the picture stays the same on each run
  d_.append("g").selectAll("circle")
    .data(vafPoints[i])
    .enter().append("circle")
    .attr("cx", (v, k) => cx + jitterOffsets[(k + i * 7) % jitterOffsets.length])
    .attr("cy", v => vafY(v))
    .attr("r", 4.6)
    .attr("fill", col);
  d_.append("line").attr("x1", cx - boxW / 2).attr("x2", cx + boxW / 2)
    .attr("y1", vafY(vafMedian[i])).attr("y2", vafY(vafMedian[i]))
    .attr("stroke", col).attr("stroke-width", 9);
  const cnt = String(vafCounts[i]);
  label(d_, cnt, cx + (cnt.length > 2 ? 15 : 9), 1652, 44, { anchor: "middle", bold: true });
  label(d_, gene, cx - 6, 2490, 43, { anchor: "middle", rotate: -90 });
});

// --- e ---
const e = svg.append("g");
const pathY = d3.scaleBand().domain(pathways).range([2823, 3637]).paddingInner(0.22);
const fracLeft = d3.scaleLinear().domain([0, 1]).range([346, 784]);
const fracRight = d3.scaleLinear().domain([0, 1]).range([1012.6, 1450.5]);
const fracRightAxis = d3.scaleLinear().domain([0, 1]).range([1018, 1458]);

label(e, "Pathway", 29, 2758, 38, { bold: true });
label(e, "Fraction of pathway affected", 590, 2766, 47, { anchor: "middle", bold: true });
label(e, "Fraction of samples affected", 1284, 2766, 47, { anchor: "middle", bold: true });

pathways.forEach((name, i) => {
  const y = pathY(name), h = pathY.bandwidth();
  e.append("rect").attr("x", fracLeft(0)).attr("y", y).attr("width", fracLeft(1) - fracLeft(0)).attr("height", h).attr("fill", "#ecf0f1");
  e.append("rect").attr("x", fracLeft(0)).attr("y", y).attr("width", fracLeft(pathwayHit[i] / pathwaySize[i]) - fracLeft(0)).attr("height", h).attr("fill", "#c0392b");
  e.append("rect").attr("x", fracRight(0)).attr("y", y).attr("width", fracRight(1) - fracRight(0)).attr("height", h).attr("fill", "#ecf0f1");
  e.append("rect").attr("x", fracRight(0)).attr("y", y).attr("width", fracRight(samplesHit[i] / samplesTotal) - fracRight(0)).attr("height", h).attr("fill", "#c0392b");
  label(e, name, name.length > 6 ? 122 : 130, y + 27, 39, { anchor: "middle" });
  label(e, `${pathwayHit[i]}/${pathwaySize[i]}`, 807, y + 28, 40);
  label(e, `${samplesHit[i]}/${samplesTotal}`, 1465, y + 33, 40);
});
[[fracLeft], [fracRightAxis]].forEach(([sc]) => {
  e.append("g").attr("transform", "translate(0,3652.6)")
    .call(d3.axisBottom(sc).tickValues(fractionTicks).tickSize(12).tickPadding(0).tickFormat(d3.format(".2f")))
    .call(g => g.selectAll("path,line").attr("stroke", "#555").attr("stroke-width", 2.5))
    .call(g => g.selectAll("text")
      .attr("font-size", 35)
      .style("font-family", "Liberation Sans")
      .attr("text-anchor", "end")
      .attr("dominant-baseline", "central")
      .attr("transform", "translate(-5,30) rotate(-90)")
      .attr("y", 0).attr("dy", 0));
});

// --- f ---
const f = svg.append("g");
const survX = d3.scaleLinear().domain([-0.503, 10.49]).range([1908, 2924]);
const survY = d3.scaleLinear().domain([-5.2, 104.9]).range([3421.6, 2763.5]);

function drawKM(time, surv, upper, lower, censor, line, fill, op) {
  const pts = time.map((t, i) => ({ t, s: surv[i], u: upper[i], l: lower[i] }));
  f.append("path").datum(pts)
    .attr("d", d3.area().curve(d3.curveStepAfter).x(d => survX(d.t)).y0(d => survY(d.l)).y1(d => survY(d.u)))
    .attr("fill", fill).attr("fill-opacity", op);
  f.append("path").datum(pts)
    .attr("d", d3.line().curve(d3.curveStepAfter).x(d => survX(d.t)).y(d => survY(d.s)))
    .attr("fill", "none").attr("stroke", line).attr("stroke-width", 4);
  const at = d3.bisector(d => d.t).right;
  f.selectAll(null)
    .data(censor)
    .enter().append("path")
    .attr("d", "M-7,0H7M0,-7V7")
    .attr("transform", d => `translate(${survX(d)},${survY(pts[at(pts, d) - 1].s)})`)
    .attr("stroke", line).attr("stroke-width", 3);
}
drawKM(genesetTime, genesetSurv, genesetUpper, genesetLower, genesetCensor, "#80cce0", "#a6dcec", 0.62);
drawKM(wtTime, wtSurv, wtUpper, wtLower, wtCensor, "#db3b40", "#ee6a70", 0.5);

f.append("g").attr("transform", "translate(1908,0)")
  .call(d3.axisLeft(survY).tickValues(survTicks).tickSize(8).tickPadding(8).tickSizeOuter(0))
  .call(g => g.selectAll("path,line").attr("stroke", "#111").attr("stroke-width", 2.5))
  .call(g => g.selectAll("text").attr("font-size", 39).style("font-family", "Liberation Sans"));
f.append("g").attr("transform", "translate(0,3421.6)")
  .call(d3.axisBottom(survX).tickValues(riskTimes).tickSize(8).tickSizeOuter(0).tickFormat(""))
  .call(g => g.selectAll("path,line").attr("stroke", "#111").attr("stroke-width", 2.5));
label(f, "Survival probability (%)", 1789, 3101, 45, { anchor: "middle", rotate: -90 });
label(f, "Geneset: TP53, ATRX", 1971, 2757.7, 47.5);
label(f, "p = 0.0063", 1942, 3390, 40);
label(f, "Number at risk", 1911, 3463, 47);

const riskY = d3.scalePoint().domain(["Geneset", "WT"]).range([3541.5, 3604]);
f.append("line").attr("x1", 1908).attr("x2", 1908).attr("y1", 3506).attr("y2", 3642.5).attr("stroke", "#111").attr("stroke-width", 2.5);
riskY.domain().forEach(g => {
  f.append("line").attr("x1", 1900).attr("x2", 1908).attr("y1", riskY(g)).attr("y2", riskY(g)).attr("stroke", "#111").attr("stroke-width", 2.5);
});
f.append("g").attr("transform", "translate(0,3642.5)")
  .call(d3.axisBottom(survX).tickValues(riskTimes).tickSize(8).tickPadding(6).tickSizeOuter(0).tickFormat(d => String(d)))
  .call(g => g.selectAll("path,line").attr("stroke", "#111").attr("stroke-width", 2.5))
  .call(g => g.selectAll("text").attr("font-size", 40).style("font-family", "Liberation Sans"));
label(f, "Geneset", 1898, 3541.5, 49, { anchor: "end", fill: "#a8dcea" });
label(f, "WT", 1884, 3597, 49, { anchor: "end", fill: "#f08a8a" });
riskTimes.forEach((t, i) => {
  label(f, riskGeneset[i], survX(t) + 3, 3541.5, 40, { anchor: "middle" });
  label(f, riskWT[i], survX(t) + (i < 2 ? 7 : 3), 3604, 40, { anchor: "middle" });
});
label(f, "Time(years)", 2500, 3713.6, 47, { anchor: "middle" });
</script>
</body>
</html>
